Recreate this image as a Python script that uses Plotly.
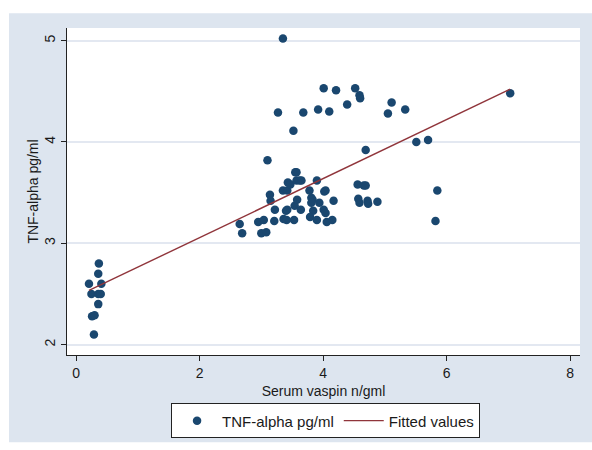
import numpy as np
import plotly.graph_objects as go

# Serum vaspin (n/gml) and TNF-alpha (pg/ml)
vaspin = [
    0.37, 0.36, 0.21, 0.41, 0.25, 0.36, 0.40, 0.36, 0.26, 0.30, 0.29,
    2.65, 2.69, 2.95, 3.04, 3.00, 3.08, 3.14, 3.15, 3.22, 3.21, 3.10,
    3.35, 3.42, 3.43, 3.47, 3.40, 3.42, 3.36, 3.41, 3.53, 3.54, 3.58,
    3.57, 3.55, 3.57, 3.62, 3.65, 3.90, 3.64, 3.78, 3.81, 3.83, 3.81,
    3.94, 4.02, 4.04, 4.17, 3.84, 4.01, 4.04, 3.79, 3.90, 4.06, 4.15,
    4.69, 4.56, 4.66, 4.69, 4.57, 4.59, 4.72, 4.73, 4.88, 5.85, 5.82,
    3.27, 3.52, 3.68, 3.92, 4.10, 4.01, 4.21, 4.52, 4.59, 4.60, 4.39,
    5.05, 5.11, 5.33, 5.51, 5.70, 3.35, 7.03,
]
tnf = [
    2.80, 2.70, 2.60, 2.60, 2.50, 2.50, 2.50, 2.40, 2.28, 2.29, 2.10,
    3.19, 3.10, 3.21, 3.23, 3.10, 3.11, 3.48, 3.42, 3.33, 3.22, 3.82,
    3.52, 3.52, 3.60, 3.58, 3.32, 3.33, 3.24, 3.23, 3.23, 3.37, 3.43,
    3.62, 3.70, 3.70, 3.62, 3.62, 3.62, 3.33, 3.52, 3.45, 3.43, 3.40,
    3.40, 3.51, 3.52, 3.42, 3.32, 3.33, 3.30, 3.26, 3.23, 3.21, 3.23,
    3.92, 3.58, 3.57, 3.57, 3.44, 3.40, 3.42, 3.39, 3.41, 3.52, 3.22,
    4.29, 4.11, 4.29, 4.32, 4.30, 4.53, 4.51, 4.53, 4.46, 4.43, 4.37,
    4.28, 4.39, 4.32, 4.00, 4.02, 5.02, 4.48,
]

x_ticks = [0, 2, 4, 6, 8]
y_ticks = [2, 3, 4, 5]

# linear fit (Fitted values)
slope, intercept = np.polyfit(vaspin, tnf, 1)
fit_x = [min(vaspin), max(vaspin)]
fit_y = [intercept + slope * v for v in fit_x]

navy = "#1a476f"
maroon = "#90353b"
outer_bg = "#dde5ef"
grid = "#e3e8f1"

fig = go.Figure()
fig.add_trace(go.Scatter(
    x=vaspin, y=tnf, mode="markers", name="TNF-alpha pg/ml",
    marker=dict(color=navy, size=8.5, line=dict(width=0)),
))
fig.add_trace(go.Scatter(
    x=fit_x, y=fit_y, mode="lines", name="Fitted values",
    line=dict(color=maroon, width=1.4),
))

# outer light background and white plot region
fig.add_shape(type="rect", xref="paper", yref="paper",
              x0=-0.113, x1=1.03, y0=-0.267, y1=1.045,
              fillcolor=outer_bg, line=dict(width=0), layer="below")
fig.add_shape(type="rect", xref="paper", yref="paper",
              x0=0, x1=1, y0=0, y1=1,
              fillcolor="white", line=dict(width=0), layer="below")

fig.update_layout(
    width=592, height=450,
    margin=dict(l=67, r=12, t=28, b=92),
    paper_bgcolor="white",
    plot_bgcolor="rgba(0,0,0,0)",
    font=dict(family="Liberation Sans, Arial, sans-serif", size=13, color="#1a1a1a"),
    showlegend=True,
    legend=dict(
        orientation="h", x=0.504, xanchor="center", y=-0.148, yanchor="top",
        bgcolor="white", bordercolor="#222", borderwidth=1,
        font=dict(size=15), itemwidth=40, traceorder="normal",
    ),
)
fig.update_xaxes(
    range=[-0.146, 8.16], tickvals=x_ticks, ticktext=[str(t) for t in x_ticks],
    showgrid=False, zeroline=False,
    showline=True, linecolor="#222", linewidth=1.2,
    ticks="outside", ticklen=5, tickcolor="#222", tickwidth=1,
    tickfont=dict(size=14),
    title=dict(text="Serum vaspin n/gml", font=dict(size=14), standoff=6),
)
fig.update_yaxes(
    range=[1.898, 5.124], tickvals=y_ticks, ticktext=[str(t) for t in y_ticks],
    showgrid=True, gridcolor=grid, gridwidth=1.6, zeroline=False,
    showline=True, linecolor="#222", linewidth=1.2,
    ticks="outside", ticklen=5, tickcolor="#222", tickwidth=1,
    tickangle=-90, tickfont=dict(size=14),
    title=dict(text="TNF-alpha pg/ml", font=dict(size=14), standoff=0),
)

fig.write_html("out.html")
